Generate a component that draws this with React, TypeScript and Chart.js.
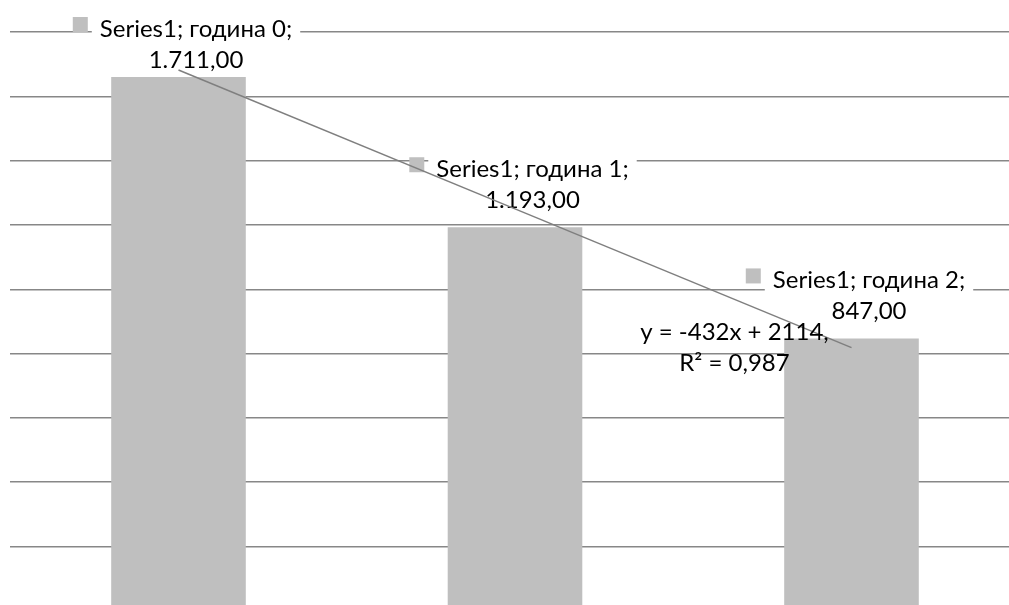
import { useEffect, useRef } from "react";
import { Chart, registerables } from "chart.js";

Chart.register(...registerables);

// Series data
const seriesName = "Series1";
const categories = ["година 0", "година 1", "година 2"];
const values = [1711, 1193, 847];

// Value axis (gridlines every 200)
const yMin = 0;
const yMax = 1800;
const yStep = 200;

const BAR_COLOR = "#bfbfbf";
const GRID_COLOR = "#878787";
const TREND_COLOR = "#7f7f7f";
const FONT_FAMILY = "Lato, 'Open Sans', sans-serif";
const FONT_SIZE = 24;

// 1711 -> "1.711,00"
function formatValue(v: number): string {
  const [intPart, decPart] = v.toFixed(2).split(".");
  const grouped = intPart.replace(/\B(?=(\d{3})+(?!\d))/g, ".");
  return `${grouped},${decPart}`;
}

// Least-squares linear trend over x = 1..n
function linearFit(ys: number[]) {
  const xs = ys.map((_, i) => i + 1);
  const n = ys.length;
  const mx = xs.reduce((a, b) => a + b, 0) / n;
  const my = ys.reduce((a, b) => a + b, 0) / n;
  let sxy = 0;
  let sxx = 0;
  xs.forEach((x, i) => {
    sxy += (x - mx) * (ys[i] - my);
    sxx += (x - mx) * (x - mx);
  });
  const slope = sxy / sxx;
  const intercept = my - slope * mx;
  const fitted = xs.map((x) => intercept + slope * x);
  let ssRes = 0;
  let ssTot = 0;
  ys.forEach((y, i) => {
    ssRes += (y - fitted[i]) ** 2;
    ssTot += (y - my) ** 2;
  });
  return { slope, intercept, fitted, r2: 1 - ssRes / ssTot };
}

const trend = linearFit(values);

// Data labels: "Series; category;" with a colour key, value on the second line
const barLabels = {
  id: "barLabels",
  afterDatasetDraw(chart: any, args: any) {
    if (args.index !== 0) return;
    const ctx: CanvasRenderingContext2D = chart.ctx;
    ctx.save();
    ctx.font = `${FONT_SIZE}px ${FONT_FAMILY}`;
    ctx.textBaseline = "middle";
    args.meta.data.forEach((bar: any, i: number) => {
      const line1 = `${seriesName}; ${categories[i]};`;
      const line2 = formatValue(values[i]);
      const w1 = ctx.measureText(line1).width;
      const keySize = 15;
      const keyGap = 12;
      const blockW = keySize + keyGap + w1;
      const left = bar.x + 4 - blockW / 2;
      const textLeft = left + keySize + keyGap;
      const textCx = textLeft + w1 / 2;
      // keep the label block inside the top of the chart
      const y1 = Math.max(bar.y - 58, 29);
      const y2 = y1 + 31;

      // label box with inner margins
      ctx.fillStyle = "#ffffff";
      ctx.fillRect(textLeft - 8, y1 - 14, w1 + 16, y2 + 17 - (y1 - 14));

      ctx.fillStyle = BAR_COLOR;
      ctx.fillRect(left, y1 - 12, keySize, keySize);

      ctx.fillStyle = "#000000";
      ctx.textAlign = "left";
      ctx.fillText(line1, textLeft, y1);
      ctx.textAlign = "center";
      ctx.fillText(line2, textCx, y2);
    });
    ctx.restore();
  },
};

// Trendline equation near the end of the trendline
const trendEquation = {
  id: "trendEquation",
  afterDraw(chart: any) {
    const meta = chart.getDatasetMeta(1);
    const last = meta.data[meta.data.length - 1];
    if (!last) return;
    const ctx: CanvasRenderingContext2D = chart.ctx;
    const sign = trend.intercept >= 0 ? "+" : "-";
    const eq1 = `y = ${Math.round(trend.slope)}x ${sign} ${Math.abs(Math.round(trend.intercept))},`;
    const eq2 = `R² = ${trend.r2.toFixed(3).replace(".", ",")}`;
    ctx.save();
    ctx.font = `${FONT_SIZE}px ${FONT_FAMILY}`;
    ctx.fillStyle = "#000000";
    ctx.textAlign = "center";
    ctx.textBaseline = "middle";
    const cx = last.x - 117;
    ctx.fillText(eq1, cx, last.y - 15);
    ctx.fillText(eq2, cx, last.y + 16);
    ctx.restore();
  },
};

export default function App() {
  const canvasRef = useRef<HTMLCanvasElement | null>(null);

  useEffect(() => {
    if (!canvasRef.current) return;
    const chart = new Chart(canvasRef.current, {
      type: "bar",
      data: {
        labels: categories,
        datasets: [
          {
            type: "bar",
            label: seriesName,
            data: values,
            backgroundColor: BAR_COLOR,
            borderWidth: 0,
            barPercentage: 0.4,
            categoryPercentage: 1,
            order: 1,
          },
          {
            type: "line",
            label: "trend",
            data: trend.fitted,
            borderColor: TREND_COLOR,
            borderWidth: 1.5,
            pointRadius: 0,
            fill: false,
            order: 0,
          },
        ],
      },
      options: {
        responsive: false,
        animation: false,
        layout: { padding: { left: 10.25, right: 10.25, top: 32.2, bottom: 14.4 } },
        plugins: {
          legend: { display: false },
          tooltip: { enabled: false },
        },
        scales: {
          x: { display: false },
          y: {
            min: yMin,
            max: yMax,
            ticks: { stepSize: yStep, display: false },
            grid: { color: GRID_COLOR, lineWidth: 1.5, drawTicks: false },
            border: { display: false },
          },
        },
      },
      plugins: [barLabels, trendEquation],
    });
    return () => chart.destroy();
  }, []);

  return (
    <div
      style={{
        position: "fixed",
        left: 0,
        top: 0,
        width: 1009,
        height: 605,
        overflow: "hidden",
        background: "#ffffff",
      }}
    >
      <canvas ref={canvasRef} width={1030} height={625} style={{ display: "block" }} />
    </div>
  );
}
